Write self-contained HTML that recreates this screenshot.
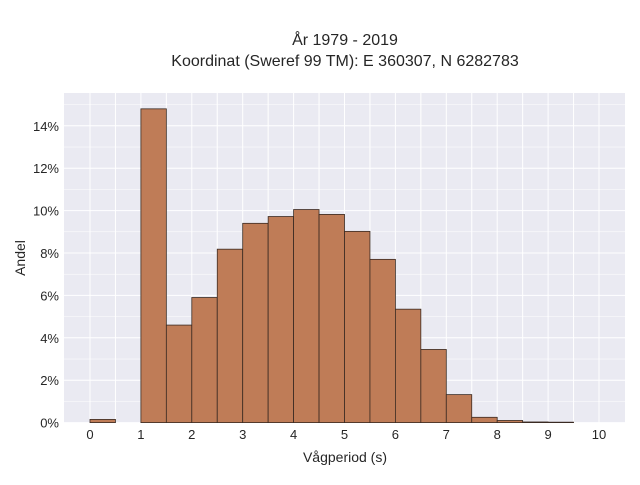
<!DOCTYPE html>
<html><head><meta charset="utf-8"><style>
body{margin:0;background:#fff;}
svg text{font-family:"Liberation Sans",sans-serif;fill:#262626;}
</style></head><body>
<svg width="640" height="480" xmlns="http://www.w3.org/2000/svg">
<text x="345" y="45" text-anchor="middle" font-size="16">År 1979 - 2019</text>
<text x="345" y="66" text-anchor="middle" font-size="16">Koordinat (Sweref 99 TM): E 360307, N 6282783</text>
<rect x="64" y="93" width="561" height="330" fill="#eaeaf2"/>
<g id="grid"></g>
<g id="bars"></g>
<g id="xt"></g>
<g id="yt"></g>
<text x="345" y="462" text-anchor="middle" font-size="14">Vågperiod (s)</text>
<text transform="translate(25,258) rotate(-90)" text-anchor="middle" font-size="14">Andel</text>
</svg>
<script>
const binStarts=[0,0.5,1,1.5,2,2.5,3,3.5,4,4.5,5,5.5,6,6.5,7,7.5,8,8.5,9,9.5];
const values=[0.15,0,14.8,4.6,5.9,8.18,9.4,9.72,10.05,9.82,9.02,7.7,5.35,3.45,1.32,0.25,0.1,0.03,0.02,0];
const xTicks=[0,1,2,3,4,5,6,7,8,9,10];
const yTicks=[0,2,4,6,8,10,12,14];
const NS='http://www.w3.org/2000/svg';
const X=v=>90+v*50.9, Y=v=>422.6-v*21.2;
function mk(t,a,p){const e=document.createElementNS(NS,t);for(const k in a)e.setAttribute(k,a[k]);p.appendChild(e);return e;}
const g=document.getElementById('grid');
for(let v=0;v<=10;v+=0.5){const l=mk('line',{x1:X(v),x2:X(v),y1:93,y2:423,stroke:'#fff','stroke-width':1},g);

}
for(let v=0;v<=15;v+=1){if(Y(v)<93)continue;const l=mk('line',{x1:64,x2:625,y1:Y(v),y2:Y(v),stroke:'#fff','stroke-width':v%2?0.5:1},g);

}
const b=document.getElementById('bars');
binStarts.forEach((s,i)=>{if(values[i]<=0)return;const r=mk('rect',{x:X(s),y:Y(values[i]),width:X(s+0.5)-X(s),height:Y(0)-Y(values[i]),fill:'#bf7c57',stroke:'#3a2a22','stroke-width':0.8},b);

});
const xt=document.getElementById('xt');
xTicks.forEach(v=>{const t=mk('text',{x:X(v),y:439,'text-anchor':'middle','font-size':13},xt);t.textContent=v;

});
const yt=document.getElementById('yt');
yTicks.forEach(v=>{const t=mk('text',{x:59,y:Y(v)+5,'text-anchor':'end','font-size':13},yt);t.textContent=v+'%';

});
</script>
</body></html>
